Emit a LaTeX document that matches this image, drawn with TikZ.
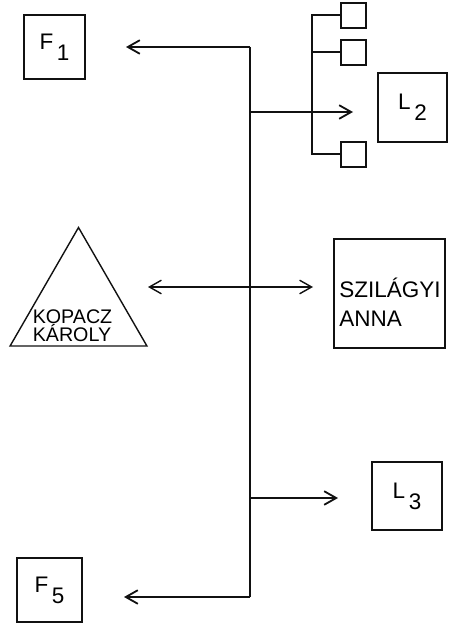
\documentclass[tikz,border=0pt]{standalone}
\usepackage{fontspec}
\setmainfont{Liberation Sans}
\usetikzlibrary{arrows.meta,positioning,shapes.geometric}
\definecolor{OrgInk}{HTML}{111111}
\tikzset{
  orgbox/.style={
    draw=OrgInk,
    line width=.5mm,
    minimum width=16mm,
    minimum height=16mm,
    inner sep=2pt,
    font=\fontsize{16}{16}\selectfont
  },
  orgcell/.style={
    draw=OrgInk,
    line width=.45mm,
    minimum size=6.25mm,
    inner sep=0pt
  },
  orgname/.style={
    align=left,
    inner sep=0pt,
    font=\fontsize{14}{12.8}\selectfont
  },
  orgwire/.style={line width=.5mm,draw=OrgInk},
  orgarrow/.style={-{Straight Barb[length=3mm,width=3.4mm]},line width=.45mm,draw=OrgInk}
}
\newcommand{\lowidx}[1]{\,\raisebox{-.5em}{#1}}

\begin{document}
\begin{tikzpicture}[x=.25mm,y=-.25mm]
  \useasboundingbox (0,0) rectangle (452,625);
  % boxes
  \node[orgbox,minimum width=15.25mm] (f1) at (54.5,47) {F\lowidx{1}};
  \node[orgbox,minimum width=16.25mm] (f5) at (49.5,590) {F\lowidx{5}};
  \node[orgbox,minimum size=17.25mm] (l2) at (412.5,107.5) {L\lowidx{2}};
  \node[orgbox,minimum width=17.5mm,minimum height=17mm] (l3) at (407,496) {L\lowidx{3}};
  \node[orgbox,minimum width=27.75mm,minimum height=27.25mm] (anna) at (389.5,293.5) {};
  \node[orgname,anchor=west,font=\fontsize{16}{20.6}\selectfont] (annaname) at ([xshift=1.5mm,yshift=-2.2mm]anna.west) {SZILÁGYI\\ANNA};
  \node[draw=OrgInk,line width=.35mm,regular polygon,regular polygon sides=3,minimum size=39.5mm,inner sep=0pt] (karoly) at (78.5,306.5) {};
  \node[orgname] (karolyname) at (72.5,326) {KOPACZ\\KÁROLY};
  % small boxes
  \node[orgcell] (s1) at (353.5,15.5) {};
  \node[orgcell,below=2.5mm of s1] (s2) {};
  \node[orgcell,below=18.75mm of s2] (s3) {};
  \draw[orgwire] (s1.west) -- ++(-28,0) |- (s3.west);
  \draw[orgwire] (s2.west) -- ++(-28,0);
  % spine and arrows
  \coordinate (top) at (250,47);
  \coordinate (jl2) at (250,112);
  \coordinate (jl3) at (250,498);
  \coordinate (bot) at (250,597);
  \coordinate (f1in) at (126,47);
  \coordinate (l2in) at (353,112);
  \coordinate (l3in) at (338,498);
  \coordinate (f5in) at (124,597);
  \coordinate (karolyin) at (148,287);
  \coordinate (annain) at (313,287);
  \draw[orgwire] (top) -- (bot);
  \draw[orgarrow] (top) -- (f1in);
  \draw[orgarrow] (jl2) -- (l2in);
  \draw[orgarrow] (jl3) -- (l3in);
  \draw[orgarrow] (bot) -- (f5in);
  \draw[orgarrow,{Straight Barb[length=3mm,width=3.4mm]}-{Straight Barb[length=3mm,width=3.4mm]},line width=.35mm] (karolyin) -- (annain);
\end{tikzpicture}
\end{document}
